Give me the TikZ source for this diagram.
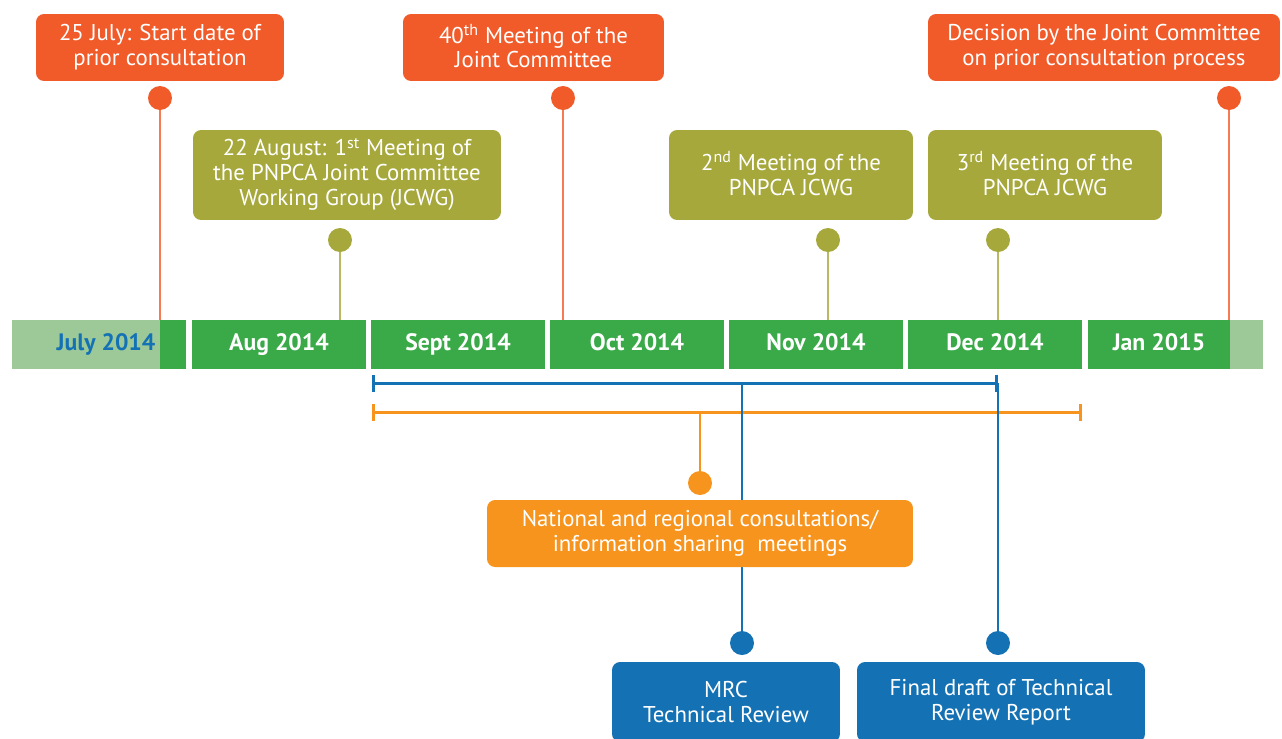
\documentclass[tikz,border=0pt]{standalone}
\usepackage{fontspec}
\setmainfont{PT Sans}
\usepackage{xcolor}
\usetikzlibrary{arrows.meta, positioning}
\definecolor{jcred}{RGB}{241,90,41}
\definecolor{jcolive}{RGB}{166,168,59}
\definecolor{jcorange}{RGB}{247,148,29}
\definecolor{jcblue}{RGB}{20,114,180}
\definecolor{bardark}{RGB}{58,170,73}
\definecolor{barlight}{RGB}{157,201,152}

\begin{document}
\begin{tikzpicture}[
    x=0.02cm, y=-0.02cm,
    box/.style={rounded corners=0.16cm, align=center, text=white, inner sep=0pt,
                font=\fontsize{13}{14.2}\selectfont},
    redbox/.style={box, fill=jcred, minimum height=1.34cm},
    olivebox/.style={box, fill=jcolive, minimum height=1.8cm},
    orangebox/.style={box, fill=jcorange, minimum height=1.34cm},
    bluebox/.style={box, fill=jcblue, minimum height=1.6cm},
    dot/.style={circle, inner sep=0pt, minimum size=0.48cm},
    month/.style={fill=bardark, minimum height=0.98cm, minimum width=3.48cm, inner sep=0pt,
                  text height=9pt, text depth=2pt,
                  text=white, font=\fontsize{13.5}{15}\selectfont\bfseries},
    light/.style={fill=barlight, minimum height=0.98cm, inner sep=0pt, anchor=west},
    link/.style={line width=1.2pt},
    span/.style={line width=1.7pt, {Bar[width=0.34cm]}-{Bar[width=0.34cm]}},
]
    \useasboundingbox (0,0) rectangle (1282,738);
    \clip (0,0) rectangle (1282,738);

    \node[minimum width=25.02cm, minimum height=0.98cm, inner sep=0pt, anchor=west] (bar) at (12,344.5) {};
    \node[light, minimum width=2.96cm] (ljul) at (12,344.5) {};
    \node[light, minimum width=0.66cm] (ljan) at (1230,344.5) {};
    \node[month, minimum width=0.52cm, anchor=west] (mjul) at (160,344.5) {};
    \node[month, fill=none, minimum width=0pt, text=jcblue] (tjul) at (106,344.5) {July 2014};
    \foreach \nm/\t [count=\i from 0] in {aug/Aug 2014, sep/Sept 2014, oct/Oct 2014, nov/Nov 2014, dec/Dec 2014}
        \node[month] (m\nm) at ({279+179*\i},344.5) {\t};
    \node[month, minimum width=2.84cm] (mjan) at (1159,344.5) {Jan 2015};

    \node[redbox, minimum width=4.96cm] (r1) at (160,47.5) {25 July: Start date of\\prior consultation};
    \node[redbox, minimum width=5.22cm] (r2) at (533.5,47.5) {40\smash{\textsuperscript{th}} Meeting of the\\Joint Committee};
    \node[redbox, minimum width=7.04cm] (r3) at (1104,47.5) {Decision by the Joint Committee\\on prior consultation process};
    \node[olivebox, minimum width=6.16cm] (g1) at (347,175) {22 August: 1\smash{\textsuperscript{st}} Meeting of\\the PNPCA Joint Committee\\Working Group (JCWG)};
    \node[olivebox, minimum width=4.88cm] (g2) at (791,175) {2\smash{\textsuperscript{nd}} Meeting of the\\PNPCA JCWG};
    \node[olivebox, minimum width=4.68cm] (g3) at (1045,175) {3\smash{\textsuperscript{rd}} Meeting of the\\PNPCA JCWG};

    \node[dot, fill=jcred] (dr1) at (160,98) {};
    \node[dot, fill=jcred] (dr2) at (563,98) {};
    \node[dot, fill=jcred] (dr3) at (1229,98) {};
    \node[dot, fill=jcolive] (dg1) at (340,240) {};
    \node[dot, fill=jcolive] (dg2) at (828,240) {};
    \node[dot, fill=jcolive] (dg3) at (998,240) {};

    \foreach \d in {dr1, dr2, dr3}
        \draw[link, jcred!80] (\d) -- (\d |- bar.north);
    \foreach \d in {dg1, dg2, dg3}
        \draw[link, jcolive!80] (\d) -- (\d |- bar.north);

    \coordinate (bl) at (372,383);
    \coordinate (br) at (998,383);
    \coordinate (ol) at (372,412);
    \coordinate (or) at (1082,412);
    \draw[span, jcorange] (ol) -- (or);
    \draw[span, jcblue] (bl) -- (br);

    \node[dot, fill=jcorange] (do) at (700,483) {};
    \node[dot, fill=jcblue] (db1) at (742,643) {};
    \node[dot, fill=jcblue] (db2) at (998,643) {};
    \draw[link, jcorange] (do |- ol) -- (do);
    \draw[link, jcblue] (db1 |- bl) -- (db1);
    \draw[link, jcblue] (br) -- (db2);

    \node[orangebox, minimum width=8.52cm] (co) at (700,533.5) {National and regional consultations/\\information sharing\ \ meetings};
    \node[bluebox, minimum width=4.56cm] (b1) at (726,702) {MRC\\Technical Review};
    \node[bluebox, minimum width=5.76cm] (b2) at (1001,702) {Final draft of Technical\\Review Report};
\end{tikzpicture}
\end{document}
